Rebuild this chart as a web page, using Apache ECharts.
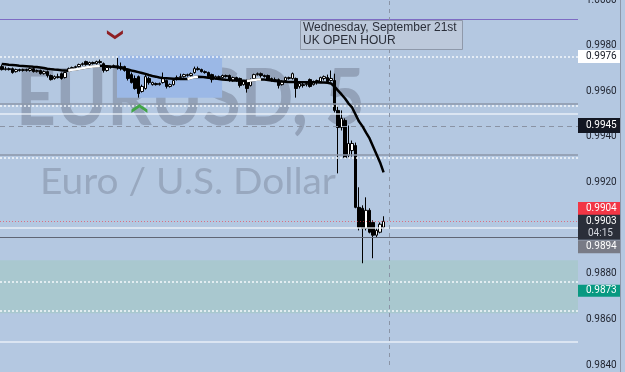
<!DOCTYPE html>
<html><head><meta charset="utf-8">
<script src="https://cdn.jsdelivr.net/npm/echarts@6/dist/echarts.min.js"></script>
<style>html,body{margin:0;padding:0;background:#b4c8e1}#c{width:625px;height:372px}</style>
</head><body><div id="c"></div>
<script>
// ---- data ----
const opens = [0.99708,0.99695,0.99699,0.99699,0.99686,0.99695,0.99691,0.99695,0.99691,0.99699,
0.99686,0.99691,0.99677,0.99686,0.99669,0.99656,0.99664,0.99677,0.99660,0.99691,
0.99699,0.99704,0.99708,0.99717,0.99730,0.99717,0.99726,0.99721,0.99730,0.99721,
0.99691,0.99704,0.99708,0.99712,0.99708,0.99708,0.99695,0.99673,0.99656,0.99664,
0.99599,0.99612,0.99656,0.99629,0.99634,0.99629,0.99638,0.99647,0.99621,0.99629,
0.99651,0.99660,0.99664,0.99669,0.99669,0.99682,0.99699,0.99695,0.99686,0.99682,
0.99673,0.99656,0.99664,0.99660,0.99669,0.99669,0.99647,0.99660,0.99656,0.99629,
0.99642,0.99625,0.99656,0.99673,0.99677,0.99669,0.99669,0.99656,0.99651,0.99651,
0.99629,0.99647,0.99656,0.99656,0.99656,0.99621,0.99629,0.99629,0.99651,0.99629,
0.99638,0.99642,0.99656,0.99660,0.99647,0.99647,0.99516,0.99441,0.99472,0.99319,
0.99340,0.99362,0.99091,0.99087,0.98999,0.99078,0.99025,0.98969,0.98982,0.99004];
const closes = [0.99695,0.99699,0.99695,0.99682,0.99695,0.99691,0.99695,0.99691,0.99699,0.99686,
0.99691,0.99677,0.99686,0.99669,0.99651,0.99664,0.99660,0.99656,0.99682,0.99699,
0.99704,0.99708,0.99717,0.99721,0.99717,0.99726,0.99721,0.99730,0.99726,0.99691,
0.99704,0.99708,0.99712,0.99708,0.99704,0.99691,0.99656,0.99638,0.99612,0.99590,
0.99621,0.99664,0.99638,0.99638,0.99629,0.99634,0.99656,0.99621,0.99629,0.99647,
0.99660,0.99664,0.99673,0.99673,0.99677,0.99699,0.99695,0.99686,0.99682,0.99664,
0.99651,0.99664,0.99660,0.99669,0.99664,0.99647,0.99660,0.99647,0.99625,0.99642,
0.99612,0.99651,0.99673,0.99677,0.99669,0.99664,0.99651,0.99647,0.99647,0.99625,
0.99642,0.99660,0.99660,0.99677,0.99612,0.99634,0.99625,0.99634,0.99621,0.99638,
0.99647,0.99660,0.99664,0.99642,0.99656,0.99516,0.99441,0.99481,0.99310,0.99371,
0.99371,0.99091,0.99004,0.98999,0.99078,0.98982,0.98969,0.98990,0.99017,0.99030];
const lows = [0.99691,0.99691,0.99691,0.99677,0.99682,0.99686,0.99686,0.99686,0.99686,0.99682,
0.99682,0.99673,0.99673,0.99660,0.99647,0.99651,0.99656,0.99651,0.99656,0.99686,
0.99695,0.99699,0.99704,0.99712,0.99712,0.99708,0.99717,0.99717,0.99721,0.99682,
0.99686,0.99699,0.99704,0.99695,0.99691,0.99686,0.99647,0.99634,0.99607,0.99572,
0.99594,0.99607,0.99629,0.99625,0.99625,0.99625,0.99634,0.99612,0.99616,0.99625,
0.99647,0.99656,0.99660,0.99664,0.99664,0.99677,0.99691,0.99682,0.99677,0.99660,
0.99638,0.99651,0.99656,0.99656,0.99660,0.99642,0.99642,0.99642,0.99616,0.99625,
0.99594,0.99621,0.99651,0.99669,0.99660,0.99660,0.99647,0.99642,0.99642,0.99612,
0.99625,0.99642,0.99651,0.99651,0.99572,0.99612,0.99616,0.99621,0.99616,0.99625,
0.99629,0.99638,0.99647,0.99638,0.99642,0.99507,0.99240,0.99428,0.99306,0.99306,
0.99314,0.99087,0.98990,0.98846,0.98990,0.98977,0.98868,0.98960,0.98977,0.98999];
const highs = [0.99717,0.99708,0.99704,0.99704,0.99699,0.99699,0.99699,0.99699,0.99704,0.99704,
0.99695,0.99695,0.99691,0.99691,0.99673,0.99669,0.99677,0.99682,0.99686,0.99704,
0.99708,0.99712,0.99721,0.99726,0.99734,0.99730,0.99730,0.99734,0.99739,0.99726,
0.99708,0.99712,0.99717,0.99748,0.99726,0.99712,0.99699,0.99682,0.99669,0.99669,
0.99629,0.99673,0.99664,0.99642,0.99638,0.99638,0.99682,0.99651,0.99634,0.99651,
0.99669,0.99677,0.99677,0.99677,0.99682,0.99708,0.99708,0.99699,0.99691,0.99686,
0.99677,0.99669,0.99669,0.99673,0.99673,0.99673,0.99664,0.99664,0.99660,0.99647,
0.99651,0.99656,0.99677,0.99682,0.99682,0.99673,0.99673,0.99660,0.99660,0.99656,
0.99647,0.99664,0.99664,0.99682,0.99660,0.99638,0.99638,0.99638,0.99656,0.99647,
0.99651,0.99664,0.99669,0.99673,0.99691,0.99677,0.99537,0.99516,0.99481,0.99450,
0.99384,0.99375,0.99179,0.99100,0.99135,0.99087,0.99034,0.98999,0.99025,0.99052];
const movingAvg = [0.99719,0.99718,0.99716,0.99715,0.99714,0.99712,0.99711,0.99710,0.99709,0.99707,
0.99706,0.99704,0.99702,0.99699,0.99697,0.99695,0.99694,0.99692,0.99691,0.99690,
0.99694,0.99695,0.99698,0.99701,0.99704,0.99706,0.99708,0.99710,0.99712,0.99711,
0.99710,0.99708,0.99707,0.99705,0.99702,0.99698,0.99695,0.99691,0.99688,0.99684,
0.99680,0.99676,0.99671,0.99667,0.99664,0.99660,0.99658,0.99657,0.99656,0.99655,
0.99655,0.99654,0.99654,0.99654,0.99658,0.99662,0.99664,0.99663,0.99661,0.99659,
0.99658,0.99656,0.99654,0.99652,0.99650,0.99649,0.99647,0.99647,0.99646,0.99646,
0.99645,0.99647,0.99649,0.99651,0.99652,0.99651,0.99649,0.99647,0.99645,0.99644,
0.99643,0.99642,0.99641,0.99641,0.99640,0.99639,0.99639,0.99639,0.99639,0.99639,
0.99639,0.99638,0.99638,0.99637,0.99634,0.99621,0.99603,0.99586,0.99568,0.99546,
0.99529,0.99498,0.99467,0.99446,0.99419,0.99393,0.99358,0.99323,0.99288,0.99244];

const slotCount = 165;                 // bars that fit the visible time range
const yMin = 0.984, yMax = 1.000, yStep = 0.002;
const gridLevels = [0.995, 0.990, 0.985];
const dottedLevels = [0.99752, 0.99537, 0.99310, 0.98763, 0.98636];
const grayLevels = [0.99546, 0.99323];
const darkLevel = 0.98960;
const dashedLevel = 0.99445;
const lastPrice = 0.9903;
const purpleLevel = 0.99914;
const demandZone = [0.98859, 0.98627];
const sessionBox = [[33.4, 0.99756], [63.4, 0.99572]];
const sellSignal = [32.8, 0.99848];
const buySignal = [39.8, 0.99524];
const cursorSlot = 111.05;
const tagTexts = ['0.9976', '0.9945', '0.9904', '0.9903', '0.9894', '0.9873'];
const tagValues = [0.99752, 0.9945, 0.9904, 0.9903, 0.9894, 0.9873];

// ---- build ----
const cats = Array.from({length: slotCount}, (_, i) => String(i));
const candles = opens.map((o, i) => [o, closes[i], lows[i], highs[i]]);
const rising = movingAvg.map((v, i) =>
  ((i > 0 && v > movingAvg[i - 1]) || (i < movingAvg.length - 1 && movingAvg[i + 1] > v)) ? v : '-');

function hLine(v, color, width, type) {
  return [{coord: [0, v], lineStyle: {color: color, width: width, type: type}}, {coord: [slotCount, v]}];
}
const lines = [];
gridLevels.forEach(v => lines.push(hLine(v, 'rgba(240,245,252,0.85)', 1.5, 'solid')));
dottedLevels.forEach(v => lines.push(hLine(v, '#f4f7fc', 1.5, [2, 2])));
grayLevels.forEach(v => lines.push(hLine(v, '#8d97a9', 1.5, 'solid')));
lines.push(hLine(darkLevel, '#5f6675', 1.2, 'solid'));
lines.push(hLine(dashedLevel, '#8a93a4', 1, [5, 4]));
lines.push(hLine(lastPrice, 'rgba(242,54,69,0.6)', 1, [1, 2]));
lines.push(hLine(purpleLevel, '#7e6cc4', 1, 'solid'));
lines.push({xAxis: cursorSlot, lineStyle: {color: '#8a94a6', width: 1, type: [4, 4]}});

const chart = echarts.init(document.getElementById('c'), null, {renderer: 'canvas'});
const option = {
  animation: false,
  backgroundColor: '#b4c8e1',
  grid: {left: 0, right: 47, top: 0, height: 365, outerBoundsMode: 'none', containLabel: false},
  xAxis: [
    {type: 'category', data: cats, boundaryGap: true, show: false},
    {type: 'value', min: 0, max: slotCount, show: false}
  ],
  yAxis: {
    type: 'value', position: 'right', min: yMin, max: yMax, interval: yStep,
    axisLine: {show: false}, axisTick: {show: false}, splitLine: {show: false},
    axisLabel: {formatter: v => v.toFixed(4), color: '#1e222d', fontSize: 10,
      fontFamily: 'Roboto', margin: 8}
  },
  series: [
    {
      type: 'line', xAxisIndex: 1, data: [], silent: true,
      markArea: {silent: true, data: [
        [{yAxis: demandZone[0], itemStyle: {color: '#a9c8cf'}}, {yAxis: demandZone[1]}],
        [{xAxis: sessionBox[0][0], yAxis: sessionBox[0][1], itemStyle: {color: '#9bb8e6'}},
         {xAxis: sessionBox[1][0], yAxis: sessionBox[1][1]}]
      ]},
      markLine: {silent: true, symbol: 'none', label: {show: false}, data: lines},
      markPoint: {silent: true, label: {show: false}, data: [
        {coord: sellSignal, symbol: 'path://M0,0 L8,5.5 L16,0 L16,3.5 L8,9 L0,3.5 Z',
          symbolSize: [16, 9], itemStyle: {color: '#8e1f24'}},
        {coord: buySignal, symbol: 'path://M0,9 L8,3.5 L16,9 L16,5.5 L8,0 L0,5.5 Z',
          symbolSize: [16, 9], itemStyle: {color: '#43a548'}}
      ]}
    },
    {
      type: 'candlestick', data: candles, barWidth: 3, z: 3,
      itemStyle: {color: '#ffffff', color0: '#000000', borderColor: '#000000',
        borderColor0: '#000000', borderWidth: 1}
    },
    {type: 'line', data: movingAvg, symbol: 'none', z: 5, silent: true,
      lineStyle: {color: '#000000', width: 2.5}},
    {type: 'line', data: rising, symbol: 'none', z: 6, silent: true, connectNulls: false,
      lineStyle: {color: '#ffffff', width: 2.5}}
  ]
};
chart.setOption(option);

// ---- texts and price tags ----
const mc = document.createElement('canvas').getContext('2d');
function fitScale(text, font, target) { mc.font = font; return target / mc.measureText(text).width; }
const wmFont = 'bold 78px Lato';
const subFont = '37px Lato';
const tagStyles = [
  {bg: '#ffffff', fg: '#131722', dy: 0, h: 13},
  {bg: '#131722', fg: '#ffffff', dy: 0, h: 15},
  {bg: '#f23645', fg: '#ffffff', dy: -10.5, h: 13},
  {bg: '#2a2e39', fg: '#ffffff', dy: 0, h: 25, extra: '04:15'},
  {bg: '#787b86', fg: '#ffffff', dy: 5, h: 13},
  {bg: '#089981', fg: '#ffffff', dy: 1, h: 12}
];
const graphics = [
  {type: 'text', z: 0, silent: true, x: 16, y: 100, scaleX: fitScale('EURUSD, 5', wmFont, 349),
    style: {text: 'EURUSD, 5', font: wmFont, fill: '#93a2b9', verticalAlign: 'middle', align: 'left'}},
  {type: 'text', z: 0, silent: true, x: 40, y: 182, scaleX: fitScale('Euro / U.S. Dollar', subFont, 296),
    style: {text: 'Euro / U.S. Dollar', font: subFont, fill: '#98a8bf', verticalAlign: 'middle', align: 'left'}},
  {type: 'rect', z: 50, silent: true, shape: {x: 300.5, y: 20.5, width: 162, height: 29},
    style: {fill: 'rgba(192,202,216,0.75)', stroke: '#8f99aa', lineWidth: 1}},
  {type: 'text', z: 51, silent: true, x: 303, y: 27.5,
    style: {text: 'Wednesday, September 21st', font: '12px "Liberation Sans"', fill: '#2a2e39', verticalAlign: 'middle'}},
  {type: 'text', z: 51, silent: true, x: 303, y: 41,
    style: {text: 'UK OPEN HOUR', font: '12px "Liberation Sans"', fill: '#2a2e39', verticalAlign: 'middle'}},
  {type: 'line', z: 50, silent: true, shape: {x1: 620.5, y1: 0, x2: 620.5, y2: 372},
    style: {stroke: '#8e98aa', lineWidth: 1}}
];
tagValues.forEach((v, i) => {
  const s = tagStyles[i];
  const yc = chart.convertToPixel({yAxisIndex: 0}, v) + s.dy;
  const top = s.extra ? yc - 6.5 : yc - s.h / 2;
  graphics.push({type: 'rect', z: 100, silent: true, shape: {x: 578, y: top, width: 42, height: s.h},
    style: {fill: s.bg}});
  graphics.push({type: 'text', z: 101, silent: true, x: 586, y: s.extra ? top + 6.5 : yc,
    style: {text: tagTexts[i], font: '10px Roboto', fill: s.fg, verticalAlign: 'middle'}});
  if (s.extra) {
    graphics.push({type: 'text', z: 101, silent: true, x: 588, y: top + 18.5,
      style: {text: s.extra, font: '10px Roboto', fill: '#d1d4dc', verticalAlign: 'middle'}});
  }
});
chart.setOption({graphic: graphics});
</script></body></html>
